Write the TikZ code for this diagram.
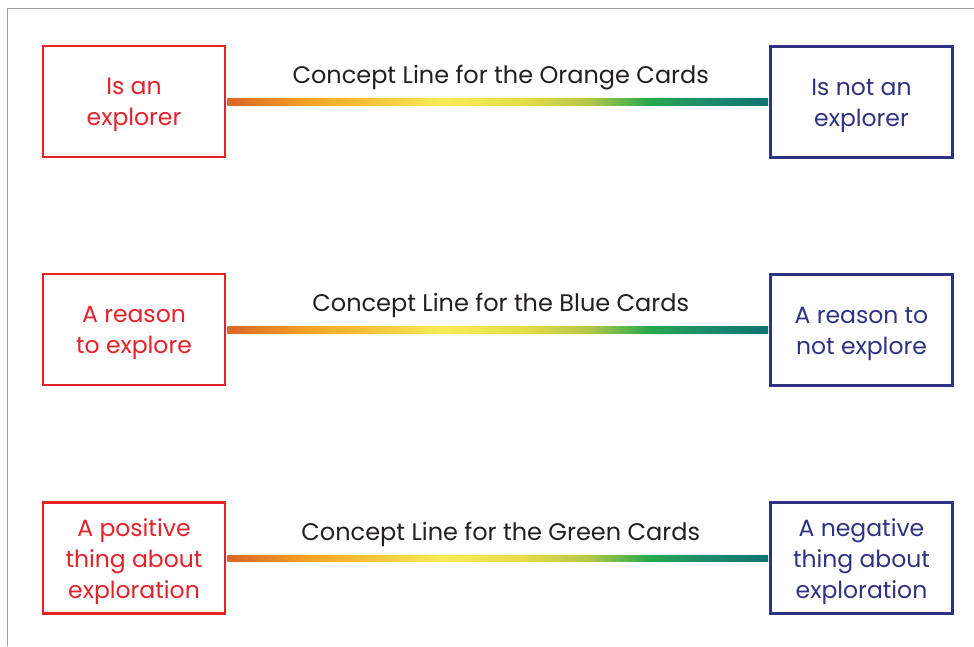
\documentclass[tikz,border=0pt]{standalone}
\usepackage{fontspec}
\setmainfont{Poppins}
\usetikzlibrary{calc}
\definecolor{cardred}{HTML}{E42228}
\definecolor{cardnavy}{HTML}{2E3283}
\definecolor{labelink}{HTML}{231F20}
\definecolor{framegray}{HTML}{A0A0A0}
\pgfdeclarehorizontalshading{conceptgrad}{100bp}{%
  rgb(0bp)=(0.86,0.40,0.16);
  rgb(25bp)=(0.86,0.40,0.16);
  rgb(32.5bp)=(0.96,0.64,0.14);
  rgb(45bp)=(0.97,0.92,0.35);
  rgb(52.5bp)=(0.90,0.86,0.29);
  rgb(58.5bp)=(0.70,0.78,0.29);
  rgb(64bp)=(0.15,0.66,0.29);
  rgb(69bp)=(0.12,0.55,0.42);
  rgb(75bp)=(0.06,0.45,0.45);
  rgb(100bp)=(0.06,0.45,0.45)}
\tikzset{
  card/.style={draw, line width=2.5pt, minimum width=182pt, minimum height=111pt, inner sep=0pt},
  cardtext/.style={inner sep=0pt, align=center, font=\fontsize{23.5}{31}\selectfont},
  yescard/.style={card, draw=cardred},
  nocard/.style={card, draw=cardnavy},
  yestext/.style={cardtext, text=cardred},
  notext/.style={cardtext, text=cardnavy},
  linelabel/.style={anchor=base, text=labelink, font=\fontsize{24}{28}\selectfont, inner sep=0pt},
  gradline/.style={shading=conceptgrad}
}
\begin{document}
\begin{tikzpicture}[x=1pt,y=-1pt]
\useasboundingbox (0,0) rectangle (974,646);
\draw[framegray, line width=1.3pt] (7.5,646) -- (7.5,8.5) -- (974,8.5);

\node[yescard] (y1) at (134,101.5) {};
\node[nocard]  (n1) at (861.5,102) {};
\node[yescard] (y2) at (134,329.5) {};
\node[nocard]  (n2) at (861.5,330) {};
\node[yescard] (y3) at (134,558) {};
\node[nocard]  (n3) at (861.5,558) {};

\node[yestext] (y1t) at ($(y1)+(0,3.5)$) {Is an\\explorer};
\node[notext]  (n1t) at ($(n1)+(0,3.5)$) {Is not an\\explorer};
\node[yestext] (y2t) at ($(y2)+(0,3.5)$) {A reason\\to explore};
\node[notext]  (n2t) at ($(n2)+(0,3.5)$) {A reason to\\not explore};
\node[yestext] (y3t) at ($(y3)+(0,3.5)$) {A positive\\thing about\\exploration};
\node[notext]  (n3t) at ($(n3)+(0,3.5)$) {A negative\\thing about\\exploration};

\foreach \a/\b/\t in {y1/n1/Orange, y2/n2/Blue, y3/n3/Green}{
  \path[gradline] ($(\a.east)+(1.2,-3)$) rectangle ($(\b.west)+(-1.2,3)$);
  \node[linelabel] (\a lbl) at ($($(\a.east)!0.5!(\b.west)$)+(3,-18)$) {Concept Line for the \t{} Cards};
}
\end{tikzpicture}
\end{document}
